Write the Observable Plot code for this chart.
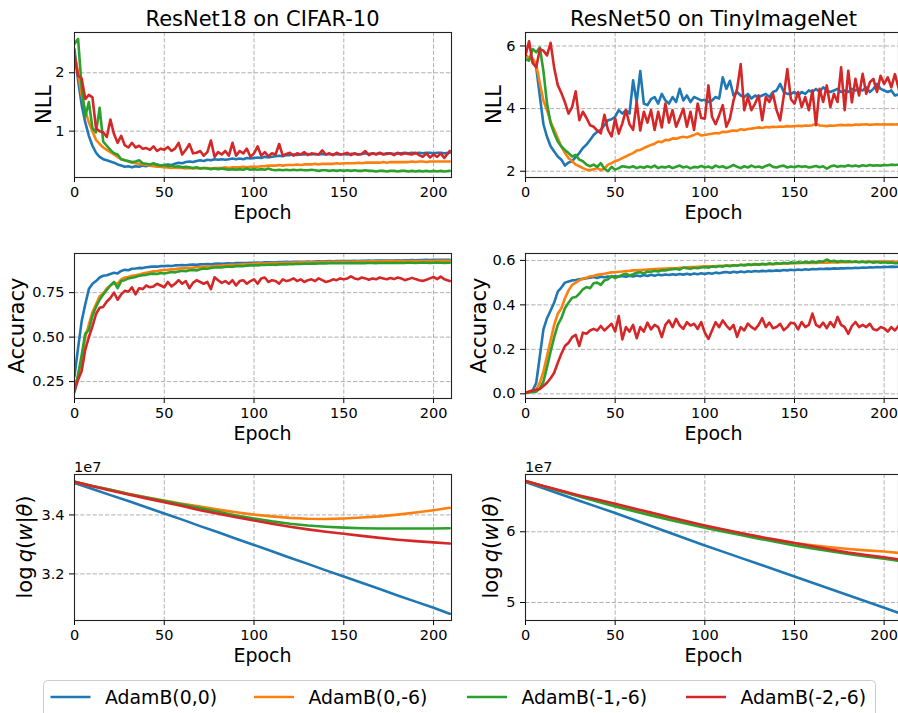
<!DOCTYPE html>
<html>
<head>
<meta charset="utf-8">
<script src="https://cdn.jsdelivr.net/npm/d3@7"></script>
<script src="https://cdn.jsdelivr.net/npm/@observablehq/plot@0.6"></script>
<style>
  html, body { margin: 0; padding: 0; background: #fff; }
  #fig { position: relative; width: 898px; height: 713px; overflow: hidden; background: #fff; }
</style>
</head>
<body>
<div id="fig"></div>
<script>
// ---- optimiser settings and colours ----
const SERIES = ["AdamB(0,0)", "AdamB(0,-6)", "AdamB(-1,-6)", "AdamB(-2,-6)"];
const COLORS = ["#1f77b4", "#ff7f0e", "#2ca02c", "#d62728"];

// metrics logged every second epoch, last one at epoch 209
const EPOCHS = [...d3.range(0, 208, 2), 209];
// log q(w|θ) sampled every ten epochs
const Q_EPOCHS = [0, 10, 20, 30, 40, 50, 60, 70, 80, 90, 100, 110, 120, 130, 140, 150, 160, 170, 180, 190, 200, 209];

const X_TICKS = [0, 50, 100, 150, 200];

// ---- ResNet18 on CIFAR-10: test NLL ----
const nllCifar00 = [
  2.40, 1.87, 1.45, 1.15, 0.92, 0.75, 0.63, 0.56, 0.52, 0.50,
  0.48, 0.46, 0.43, 0.41, 0.39, 0.40, 0.38, 0.40, 0.39, 0.41,
  0.40, 0.42, 0.41, 0.43, 0.41, 0.42, 0.43, 0.42, 0.44, 0.46,
  0.45, 0.47, 0.48, 0.47, 0.49, 0.50, 0.49, 0.51, 0.50, 0.52,
  0.51, 0.52, 0.51, 0.52, 0.53, 0.52, 0.53, 0.52, 0.54, 0.53,
  0.54, 0.55, 0.54, 0.56, 0.55, 0.56, 0.57, 0.58, 0.57, 0.59,
  0.59, 0.60, 0.59, 0.60, 0.60, 0.61, 0.60, 0.61, 0.60, 0.61,
  0.60, 0.61, 0.60, 0.61, 0.60, 0.61, 0.60, 0.61, 0.61, 0.60,
  0.61, 0.62, 0.61, 0.62, 0.61, 0.62, 0.61, 0.62, 0.62, 0.61,
  0.62, 0.62, 0.63, 0.62, 0.63, 0.62, 0.63, 0.62, 0.63, 0.63,
  0.62, 0.63, 0.63, 0.62, 0.63
];
const nllCifar06 = [
  2.30, 2.00, 1.62, 1.35, 1.15, 1.00, 0.85, 0.78, 0.72, 0.68,
  0.64, 0.60, 0.56, 0.52, 0.50, 0.48, 0.46, 0.45, 0.44, 0.43,
  0.42, 0.41, 0.40, 0.39, 0.39, 0.38, 0.38, 0.37, 0.38, 0.37,
  0.37, 0.36, 0.37, 0.36, 0.37, 0.36, 0.37, 0.37, 0.36, 0.37,
  0.37, 0.37, 0.38, 0.37, 0.38, 0.38, 0.38, 0.39, 0.38, 0.39,
  0.39, 0.39, 0.40, 0.40, 0.41, 0.41, 0.41, 0.42, 0.41, 0.42,
  0.42, 0.42, 0.43, 0.42, 0.43, 0.43, 0.43, 0.44, 0.43, 0.44,
  0.44, 0.44, 0.44, 0.45, 0.44, 0.45, 0.45, 0.45, 0.45, 0.46,
  0.45, 0.46, 0.46, 0.46, 0.46, 0.46, 0.47, 0.46, 0.47, 0.47,
  0.47, 0.47, 0.47, 0.47, 0.48, 0.47, 0.48, 0.48, 0.47, 0.48,
  0.48, 0.48, 0.48, 0.48, 0.48
];
const nllCifar16 = [
  2.50, 2.58, 1.75, 1.25, 1.50, 1.05, 0.98, 1.40, 0.82, 0.75,
  0.68, 0.62, 0.60, 0.52, 0.50, 0.49, 0.47, 0.48, 0.50, 0.45,
  0.44, 0.43, 0.45, 0.42, 0.41, 0.42, 0.40, 0.41, 0.39, 0.40,
  0.38, 0.39, 0.38, 0.37, 0.38, 0.36, 0.37, 0.36, 0.35, 0.36,
  0.35, 0.36, 0.35, 0.34, 0.35, 0.34, 0.35, 0.34, 0.36, 0.34,
  0.35, 0.34, 0.35, 0.34, 0.36, 0.34, 0.33, 0.34, 0.33, 0.34,
  0.33, 0.34, 0.33, 0.34, 0.33, 0.33, 0.34, 0.33, 0.32, 0.33,
  0.33, 0.32, 0.33, 0.32, 0.33, 0.32, 0.33, 0.32, 0.33, 0.32,
  0.32, 0.33, 0.32, 0.32, 0.31, 0.32, 0.32, 0.31, 0.32, 0.32,
  0.31, 0.32, 0.32, 0.31, 0.32, 0.31, 0.32, 0.31, 0.32, 0.31,
  0.32, 0.31, 0.32, 0.31, 0.32
];
const nllCifar26 = [
  2.30, 1.95, 1.90, 1.55, 1.62, 1.58, 1.05, 1.00, 0.98, 0.90,
  1.20, 0.95, 0.80, 0.92, 0.76, 0.72, 0.80, 0.72, 0.75, 0.70,
  0.71, 0.68, 0.74, 0.66, 0.70, 0.68, 0.73, 0.66, 0.70, 0.80,
  0.60, 0.68, 0.78, 0.62, 0.63, 0.66, 0.58, 0.64, 0.84, 0.56,
  0.64, 0.60, 0.66, 0.58, 0.80, 0.58, 0.66, 0.62, 0.70, 0.56,
  0.62, 0.74, 0.58, 0.64, 0.57, 0.62, 0.60, 0.78, 0.58, 0.61,
  0.63, 0.58, 0.62, 0.60, 0.64, 0.59, 0.62, 0.61, 0.60, 0.67,
  0.60, 0.62, 0.59, 0.63, 0.60, 0.61, 0.63, 0.59, 0.62, 0.60,
  0.61, 0.66, 0.59, 0.62, 0.60, 0.63, 0.60, 0.61, 0.62, 0.59,
  0.63, 0.60, 0.62, 0.61, 0.60, 0.63, 0.59, 0.56, 0.62, 0.55,
  0.60, 0.56, 0.62, 0.54, 0.66
];

// ---- ResNet50 on TinyImageNet: test NLL ----
const nllTiny00 = [
  5.70, 5.62, 5.58, 5.30, 4.40, 3.50, 3.10, 2.80, 2.63, 2.47,
  2.37, 2.18, 2.28, 2.32, 2.45, 2.58, 2.74, 2.85, 3.00, 3.16,
  3.26, 3.32, 3.47, 3.63, 3.66, 3.74, 3.95, 3.84, 3.95, 3.84,
  4.90, 4.20, 5.20, 4.16, 4.11, 4.30, 4.37, 4.16, 4.47, 4.26,
  4.16, 4.37, 4.21, 4.63, 4.26, 4.42, 4.21, 4.37, 4.32, 4.26,
  4.28, 4.21, 4.26, 4.37, 4.32, 5.00, 4.63, 4.89, 4.42, 4.53,
  4.42, 4.37, 4.47, 4.32, 4.42, 4.37, 4.42, 4.47, 4.37, 4.53,
  4.58, 4.79, 4.53, 4.47, 4.47, 4.53, 4.42, 4.53, 4.47, 4.58,
  4.53, 4.63, 4.53, 4.68, 4.58, 4.53, 4.58, 4.63, 4.53, 4.58,
  4.53, 4.63, 4.58, 4.63, 4.58, 4.68, 4.53, 4.63, 4.79, 4.63,
  4.58, 4.53, 4.58, 4.42, 4.47
];
const nllTiny06 = [
  5.70, 5.62, 5.60, 5.40, 4.80, 4.25, 3.95, 3.58, 3.32, 3.05,
  2.79, 2.58, 2.42, 2.32, 2.21, 2.16, 2.10, 2.05, 2.04, 2.06,
  2.10, 2.04, 2.08, 2.21, 2.26, 2.32, 2.36, 2.42, 2.47, 2.53,
  2.58, 2.66, 2.68, 2.74, 2.79, 2.84, 2.88, 2.95, 2.93, 3.00,
  2.99, 3.05, 3.04, 3.08, 3.10, 3.08, 3.12, 3.16, 3.21, 3.14,
  3.16, 3.18, 3.20, 3.22, 3.21, 3.26, 3.25, 3.28, 3.30, 3.29,
  3.34, 3.32, 3.35, 3.36, 3.38, 3.40, 3.38, 3.41, 3.40, 3.42,
  3.41, 3.43, 3.42, 3.44, 3.43, 3.44, 3.45, 3.44, 3.46, 3.45,
  3.47, 3.52, 3.46, 3.45, 3.44, 3.46, 3.45, 3.47, 3.48, 3.47,
  3.48, 3.47, 3.49, 3.48, 3.49, 3.50, 3.48, 3.49, 3.50, 3.49,
  3.50, 3.49, 3.50, 3.49, 3.50
];
const nllTiny16 = [
  5.58, 5.53, 5.90, 5.80, 5.95, 5.20, 4.16, 3.53, 3.21, 2.95,
  2.79, 2.68, 2.58, 2.47, 2.52, 2.37, 2.32, 2.21, 2.16, 2.21,
  2.14, 2.26, 2.08, 2.00, 2.14, 2.05, 2.10, 2.16, 2.14, 2.12,
  2.16, 2.10, 2.14, 2.11, 2.16, 2.12, 2.18, 2.10, 2.14, 2.12,
  2.16, 2.10, 2.14, 2.18, 2.12, 2.15, 2.09, 2.14, 2.12, 2.17,
  2.12, 2.15, 2.10, 2.18, 2.13, 2.16, 2.10, 2.14, 2.20, 2.14,
  2.10, 2.16, 2.12, 2.18, 2.13, 2.15, 2.11, 2.17, 2.21, 2.14,
  2.12, 2.16, 2.18, 2.12, 2.15, 2.13, 2.17, 2.14, 2.16, 2.12,
  2.14, 2.17, 2.13, 2.16, 2.08, 2.15, 2.18, 2.14, 2.17, 2.15,
  2.19, 2.16, 2.18, 2.15, 2.19, 2.17, 2.20, 2.18, 2.19, 2.18,
  2.20, 2.19, 2.21, 2.20, 2.21
];
const nllTiny26 = [
  5.70, 6.15, 5.45, 5.32, 5.90, 5.85, 5.70, 6.10, 5.30, 4.75,
  4.50, 4.20, 3.84, 4.05, 4.55, 3.63, 3.90, 3.70, 3.47, 3.42,
  3.30, 3.21, 3.80, 3.32, 3.11, 3.68, 3.20, 3.53, 3.95, 3.50,
  3.32, 4.21, 3.30, 3.90, 3.55, 3.95, 3.32, 3.90, 3.40, 4.16,
  3.55, 3.95, 3.42, 3.70, 4.00, 3.42, 3.90, 3.32, 4.16, 3.70,
  3.68, 4.74, 3.74, 3.50, 3.79, 4.11, 3.42, 3.68, 4.26, 4.63,
  5.42, 3.95, 4.37, 3.95, 4.16, 4.42, 3.63, 4.37, 4.21, 4.47,
  3.95, 3.63, 4.40, 5.26, 4.30, 4.16, 4.53, 4.05, 4.37, 3.95,
  4.58, 3.47, 4.63, 4.21, 4.74, 4.05, 4.47, 4.21, 5.32, 3.95,
  5.21, 4.20, 4.95, 4.42, 5.11, 4.47, 4.84, 4.95, 4.53, 5.05,
  4.79, 5.00, 4.68, 5.10, 4.45
];

// ---- ResNet18 on CIFAR-10: test accuracy ----
const accCifar00 = [
  0.28, 0.44, 0.59, 0.685, 0.77, 0.80, 0.815, 0.835, 0.845, 0.848,
  0.855, 0.862, 0.858, 0.872, 0.878, 0.876, 0.884, 0.886, 0.889, 0.888,
  0.893, 0.895, 0.897, 0.896, 0.899, 0.900, 0.901, 0.900, 0.903, 0.904,
  0.905, 0.904, 0.907, 0.908, 0.907, 0.909, 0.910, 0.911, 0.910, 0.912,
  0.913, 0.912, 0.914, 0.915, 0.914, 0.916, 0.916, 0.917, 0.916, 0.918,
  0.918, 0.919, 0.918, 0.920, 0.920, 0.921, 0.920, 0.922, 0.922, 0.923,
  0.922, 0.923, 0.924, 0.923, 0.924, 0.925, 0.924, 0.925, 0.926, 0.925,
  0.926, 0.927, 0.926, 0.927, 0.928, 0.927, 0.928, 0.928, 0.929, 0.928,
  0.929, 0.929, 0.930, 0.929, 0.930, 0.930, 0.931, 0.930, 0.931, 0.931,
  0.932, 0.931, 0.932, 0.932, 0.933, 0.932, 0.933, 0.933, 0.934, 0.933,
  0.934, 0.934, 0.934, 0.935, 0.934
];
const accCifar06 = [
  0.22, 0.28, 0.37, 0.50, 0.57, 0.64, 0.685, 0.73, 0.745, 0.775,
  0.79, 0.805, 0.80, 0.825, 0.835, 0.838, 0.845, 0.848, 0.852, 0.857,
  0.862, 0.866, 0.870, 0.872, 0.875, 0.877, 0.879, 0.881, 0.882, 0.885,
  0.887, 0.888, 0.890, 0.891, 0.893, 0.894, 0.896, 0.897, 0.898, 0.900,
  0.901, 0.902, 0.904, 0.905, 0.906, 0.907, 0.908, 0.909, 0.910, 0.911,
  0.912, 0.913, 0.914, 0.914, 0.915, 0.916, 0.916, 0.917, 0.917, 0.918,
  0.918, 0.919, 0.919, 0.920, 0.920, 0.921, 0.921, 0.921, 0.922, 0.922,
  0.922, 0.923, 0.923, 0.923, 0.924, 0.924, 0.924, 0.924, 0.925, 0.925,
  0.925, 0.925, 0.926, 0.926, 0.926, 0.926, 0.926, 0.927, 0.927, 0.927,
  0.927, 0.927, 0.927, 0.928, 0.928, 0.928, 0.928, 0.928, 0.928, 0.928,
  0.928, 0.929, 0.929, 0.929, 0.929
];
const accCifar16 = [
  0.19, 0.29, 0.40, 0.52, 0.54, 0.62, 0.67, 0.71, 0.74, 0.765,
  0.79, 0.81, 0.775, 0.815, 0.82, 0.83, 0.834, 0.838, 0.845, 0.848,
  0.85, 0.855, 0.857, 0.855, 0.86, 0.858, 0.862, 0.866, 0.864, 0.869,
  0.873, 0.870, 0.876, 0.878, 0.875, 0.882, 0.886, 0.884, 0.889, 0.891,
  0.893, 0.891, 0.895, 0.897, 0.895, 0.899, 0.900, 0.898, 0.902, 0.903,
  0.904, 0.903, 0.906, 0.905, 0.907, 0.908, 0.906, 0.909, 0.910, 0.909,
  0.911, 0.910, 0.912, 0.911, 0.913, 0.912, 0.914, 0.913, 0.914, 0.915,
  0.914, 0.915, 0.916, 0.915, 0.916, 0.915, 0.917, 0.916, 0.917, 0.916,
  0.917, 0.916, 0.918, 0.917, 0.916, 0.918, 0.917, 0.918, 0.917, 0.918,
  0.917, 0.918, 0.917, 0.919, 0.918, 0.917, 0.918, 0.919, 0.918, 0.917,
  0.918, 0.919, 0.918, 0.917, 0.918
];
const accCifar26 = [
  0.20, 0.26, 0.31, 0.43, 0.50, 0.56, 0.63, 0.665, 0.67, 0.70,
  0.72, 0.75, 0.71, 0.74, 0.76, 0.755, 0.78, 0.74, 0.775, 0.77,
  0.79, 0.78, 0.785, 0.80, 0.79, 0.78, 0.81, 0.785, 0.80, 0.82,
  0.80, 0.815, 0.775, 0.805, 0.82, 0.81, 0.80, 0.81, 0.77, 0.836,
  0.82, 0.805, 0.815, 0.80, 0.82, 0.79, 0.815, 0.82, 0.80, 0.815,
  0.825, 0.80, 0.83, 0.835, 0.81, 0.82, 0.815, 0.80, 0.825, 0.815,
  0.82, 0.83, 0.815, 0.825, 0.81, 0.82, 0.825, 0.815, 0.83, 0.82,
  0.81, 0.815, 0.825, 0.82, 0.83, 0.825, 0.83, 0.842, 0.83, 0.825,
  0.835, 0.83, 0.822, 0.83, 0.825, 0.835, 0.83, 0.825, 0.832, 0.826,
  0.835, 0.83, 0.82, 0.826, 0.833, 0.826, 0.82, 0.816, 0.822, 0.83,
  0.838, 0.826, 0.84, 0.825, 0.815
];

// ---- ResNet50 on TinyImageNet: test accuracy ----
const accTiny00 = [
  0.005, 0.008, 0.015, 0.05, 0.17, 0.29, 0.34, 0.375, 0.41, 0.46,
  0.478, 0.50, 0.505, 0.51, 0.512, 0.515, 0.517, 0.52, 0.522, 0.525,
  0.521, 0.527, 0.524, 0.528, 0.525, 0.529, 0.527, 0.53, 0.526, 0.531,
  0.528, 0.532, 0.529, 0.534, 0.53, 0.535, 0.531, 0.536, 0.533, 0.537,
  0.534, 0.538, 0.535, 0.539, 0.536, 0.54, 0.536, 0.541, 0.538, 0.542,
  0.539, 0.543, 0.54, 0.545, 0.542, 0.546, 0.548, 0.544, 0.549, 0.546,
  0.55, 0.547, 0.551, 0.549, 0.552, 0.55, 0.553, 0.551, 0.554, 0.552,
  0.555, 0.553, 0.557, 0.555, 0.558, 0.556, 0.559, 0.557, 0.56, 0.558,
  0.561, 0.56, 0.562, 0.561, 0.563, 0.562, 0.564, 0.563, 0.565, 0.564,
  0.566, 0.565, 0.567, 0.566, 0.568, 0.567, 0.569, 0.568, 0.57, 0.569,
  0.571, 0.57, 0.572, 0.571, 0.572
];
const accTiny06 = [
  0.005, 0.008, 0.01, 0.02, 0.05, 0.10, 0.17, 0.24, 0.31, 0.36,
  0.385, 0.43, 0.465, 0.49, 0.50, 0.51, 0.518, 0.522, 0.528, 0.53,
  0.535, 0.538, 0.54, 0.543, 0.546, 0.547, 0.549, 0.55, 0.552, 0.553,
  0.555, 0.556, 0.557, 0.558, 0.559, 0.56, 0.561, 0.562, 0.562, 0.563,
  0.564, 0.565, 0.565, 0.567, 0.567, 0.569, 0.57, 0.57, 0.571, 0.572,
  0.573, 0.573, 0.574, 0.575, 0.575, 0.576, 0.577, 0.577, 0.578, 0.578,
  0.579, 0.58, 0.58, 0.581, 0.581, 0.582, 0.582, 0.583, 0.583, 0.584,
  0.584, 0.585, 0.585, 0.586, 0.586, 0.587, 0.587, 0.588, 0.588, 0.588,
  0.589, 0.589, 0.59, 0.59, 0.59, 0.591, 0.591, 0.591, 0.592, 0.592,
  0.592, 0.593, 0.593, 0.593, 0.594, 0.594, 0.594, 0.594, 0.595, 0.595,
  0.595, 0.595, 0.595, 0.594, 0.594
];
const accTiny16 = [
  0.005, 0.006, 0.008, 0.01, 0.025, 0.055, 0.12, 0.19, 0.255, 0.31,
  0.34, 0.385, 0.41, 0.432, 0.435, 0.45, 0.47, 0.48, 0.475, 0.497,
  0.50, 0.49, 0.51, 0.515, 0.53, 0.52, 0.528, 0.535, 0.54, 0.532,
  0.538, 0.545, 0.547, 0.542, 0.55, 0.549, 0.553, 0.55, 0.556, 0.555,
  0.558, 0.56, 0.562, 0.558, 0.568, 0.565, 0.562, 0.567, 0.565, 0.568,
  0.57, 0.567, 0.573, 0.57, 0.575, 0.572, 0.577, 0.574, 0.578, 0.576,
  0.58, 0.577, 0.582, 0.579, 0.584, 0.58, 0.585, 0.582, 0.587, 0.583,
  0.588, 0.585, 0.589, 0.586, 0.591, 0.588, 0.592, 0.589, 0.593, 0.59,
  0.594, 0.591, 0.596, 0.594, 0.604, 0.595, 0.598, 0.593, 0.597, 0.594,
  0.596, 0.593, 0.595, 0.592, 0.594, 0.591, 0.594, 0.59, 0.593, 0.589,
  0.592, 0.589, 0.591, 0.587, 0.588
];
const accTiny26 = [
  0.005, 0.01, 0.015, 0.018, 0.022, 0.035, 0.05, 0.07, 0.095, 0.14,
  0.18, 0.215, 0.23, 0.255, 0.265, 0.215, 0.275, 0.27, 0.285, 0.292,
  0.285, 0.305, 0.285, 0.30, 0.315, 0.28, 0.35, 0.245, 0.30, 0.28,
  0.31, 0.25, 0.30, 0.28, 0.32, 0.29, 0.31, 0.30, 0.255, 0.31,
  0.33, 0.30, 0.337, 0.307, 0.292, 0.322, 0.307, 0.315, 0.292, 0.322,
  0.275, 0.247, 0.285, 0.322, 0.30, 0.33, 0.307, 0.29, 0.31, 0.256,
  0.30, 0.285, 0.316, 0.30, 0.29, 0.31, 0.34, 0.30, 0.32, 0.295,
  0.30, 0.315, 0.286, 0.30, 0.32, 0.316, 0.29, 0.323, 0.30, 0.31,
  0.361, 0.31, 0.30, 0.32, 0.295, 0.323, 0.30, 0.346, 0.31, 0.30,
  0.27, 0.305, 0.323, 0.30, 0.31, 0.30, 0.315, 0.29, 0.286, 0.30,
  0.295, 0.28, 0.30, 0.285, 0.316
];

// ---- log q(w|θ), in units of 1e7 ----
const logqCifar00 = [3.508, 3.488, 3.467, 3.447, 3.426, 3.405, 3.384, 3.362, 3.341, 3.319, 3.298, 3.277, 3.255, 3.234, 3.212, 3.191, 3.170, 3.149, 3.127, 3.106, 3.085, 3.065];
const logqCifar06 = [3.512, 3.498, 3.485, 3.472, 3.460, 3.449, 3.438, 3.428, 3.418, 3.409, 3.401, 3.395, 3.390, 3.387, 3.386, 3.388, 3.391, 3.395, 3.401, 3.408, 3.416, 3.424];
const logqCifar16 = [3.512, 3.498, 3.485, 3.471, 3.459, 3.447, 3.435, 3.423, 3.411, 3.398, 3.388, 3.378, 3.370, 3.364, 3.360, 3.357, 3.355, 3.354, 3.354, 3.354, 3.354, 3.355];
const logqCifar26 = [3.512, 3.497, 3.483, 3.469, 3.456, 3.443, 3.430, 3.416, 3.404, 3.392, 3.381, 3.370, 3.360, 3.351, 3.343, 3.336, 3.329, 3.322, 3.316, 3.311, 3.307, 3.303];

const logqTiny00 = [6.703, 6.615, 6.527, 6.440, 6.352, 6.264, 6.173, 6.081, 5.990, 5.898, 5.807, 5.719, 5.631, 5.543, 5.456, 5.368, 5.279, 5.191, 5.102, 5.014, 4.925, 4.846];
const logqTiny06 = [6.717, 6.645, 6.576, 6.507, 6.440, 6.373, 6.310, 6.247, 6.186, 6.129, 6.075, 6.024, 5.975, 5.928, 5.882, 5.840, 5.808, 5.780, 5.757, 5.737, 5.720, 5.698];
const logqTiny16 = [6.717, 6.643, 6.570, 6.498, 6.427, 6.358, 6.295, 6.232, 6.170, 6.112, 6.057, 6.005, 5.953, 5.903, 5.854, 5.807, 5.765, 5.725, 5.687, 5.652, 5.618, 5.588];
const logqTiny26 = [6.717, 6.648, 6.580, 6.514, 6.455, 6.396, 6.333, 6.271, 6.210, 6.150, 6.090, 6.035, 5.982, 5.932, 5.885, 5.840, 5.795, 5.750, 5.708, 5.672, 5.640, 5.607];

// ---- layout ----
const FONT = "DejaVu Sans, Liberation Sans, sans-serif";
const GRID = "#b0b0b0";
const LINE_WIDTH = 2.6;
const fig = document.getElementById("fig");

const rowsOf = (epochs, values) => values.map((v, i) => ({epoch: epochs[i], value: v}));

const LEFT = {x: 74, w: 377, xDomain: [0, 210]};
const RIGHT = {x: 525, w: 373, xDomain: [0, 208]};
const ROWS = [{y: 32, h: 145}, {y: 253, h: 145}, {y: 474, h: 146}];

const panels = [
  {col: LEFT, row: ROWS[0], yDomain: [0.206, 2.69], yTicks: [1, 2], fmt: "d", epochs: EPOCHS,
   lines: [nllCifar00, nllCifar06, nllCifar16, nllCifar26]},
  {col: RIGHT, row: ROWS[0], yDomain: [1.8, 6.43], yTicks: [2, 4, 6], fmt: "d", epochs: EPOCHS,
   lines: [nllTiny00, nllTiny06, nllTiny16, nllTiny26]},
  {col: LEFT, row: ROWS[1], yDomain: [0.155, 0.97], yTicks: [0.25, 0.5, 0.75], fmt: ".2f", epochs: EPOCHS,
   lines: [accCifar00, accCifar06, accCifar16, accCifar26]},
  {col: RIGHT, row: ROWS[1], yDomain: [-0.021, 0.631], yTicks: [0, 0.2, 0.4, 0.6], fmt: ".1f", epochs: EPOCHS,
   lines: [accTiny00, accTiny06, accTiny16, accTiny26]},
  {col: LEFT, row: ROWS[2], yDomain: [3.042, 3.537], yTicks: [3.2, 3.4], fmt: ".1f", epochs: Q_EPOCHS,
   lines: [logqCifar00, logqCifar06, logqCifar16, logqCifar26]},
  {col: RIGHT, row: ROWS[2], yDomain: [4.745, 6.81], yTicks: [5, 6], fmt: "d", epochs: Q_EPOCHS,
   lines: [logqTiny00, logqTiny06, logqTiny16, logqTiny26]}
];

const mL = 70, mR = 10, mT = 10, mB = 36;
for (const p of panels) {
  const chart = Plot.plot({
    width: p.col.w + mL + mR,
    height: p.row.h + mT + mB,
    marginLeft: mL, marginRight: mR, marginTop: mT, marginBottom: mB,
    style: {background: "transparent", fontFamily: FONT, fontSize: "14.5px", color: "#000"},
    x: {domain: p.col.xDomain, ticks: X_TICKS, tickFormat: "d", tickSize: 5, tickPadding: 4.5, label: null},
    y: {domain: p.yDomain, ticks: p.yTicks, tickFormat: p.fmt, tickSize: 5, tickPadding: 5, label: null},
    marks: [
      Plot.ruleX(X_TICKS, {stroke: GRID, strokeWidth: 1, strokeDasharray: "4.3,1.9"}),
      Plot.ruleY(p.yTicks, {stroke: GRID, strokeWidth: 1, strokeDasharray: "4.3,1.9"}),
      ...p.lines.map((vals, i) => Plot.line(rowsOf(p.epochs, vals), {
        x: "epoch", y: "value", stroke: COLORS[i], strokeWidth: LINE_WIDTH, clip: true
      })),
      Plot.frame({stroke: "#222", strokeWidth: 1.1})
    ]
  });
  chart.style.position = "absolute";
  chart.style.left = (p.col.x - mL) + "px";
  chart.style.top = (p.row.y - mT) + "px";
  chart.style.maxWidth = "none";
  fig.appendChild(chart);
}

// ---- titles, axis labels, offset text and legend ----
const overlay = d3.create("svg")
  .attr("width", 898).attr("height", 713)
  .style("position", "absolute").style("left", "0px").style("top", "0px")
  .style("font-family", FONT);

overlay.append("text").attr("x", 262.5).attr("y", 25.5)
  .attr("text-anchor", "middle").attr("font-size", "21px").text("ResNet18 on CIFAR-10");
overlay.append("text").attr("x", 713.5).attr("y", 25.5)
  .attr("text-anchor", "middle").attr("font-size", "21px").text("ResNet50 on TinyImageNet");

// "Epoch" under every panel
for (const p of panels) {
  overlay.append("text")
    .attr("x", p.col === LEFT ? 262.5 : 713.5)
    .attr("y", p.row.y + p.row.h + 41.5)
    .attr("text-anchor", "middle").attr("font-size", "19px").text("Epoch");
}

// rotated y labels
function yLabel(x, cy, build) {
  const t = overlay.append("text")
    .attr("transform", `translate(${x},${cy}) rotate(-90)`)
    .attr("text-anchor", "middle").attr("font-size", "21px");
  build(t);
}
const plain = s => t => t.text(s);
const logq = t => {
  t.append("tspan").text("log\u2009");
  t.append("tspan").attr("font-style", "italic").text("q");
  t.append("tspan").text("(");
  t.append("tspan").attr("font-style", "italic").text("w");
  t.append("tspan").text("|");
  t.append("tspan").attr("font-style", "italic").text("θ");
  t.append("tspan").text(")");
};
const midY = r => r.y + r.h / 2;
yLabel(50.5, midY(ROWS[0]), plain("NLL"));
yLabel(500.5, midY(ROWS[0]), plain("NLL"));
yLabel(24, midY(ROWS[1]), plain("Accuracy"));
yLabel(485.5, midY(ROWS[1]), plain("Accuracy"));
yLabel(31.5, midY(ROWS[2]), logq);
yLabel(497.5, midY(ROWS[2]), logq);

// scale offset of the log q panels
overlay.append("text").attr("x", 74).attr("y", 471.5).attr("font-size", "14.5px").text("1e7");
overlay.append("text").attr("x", 525).attr("y", 471.5).attr("font-size", "14.5px").text("1e7");

// legend
const legend = overlay.append("g");
legend.append("rect")
  .attr("x", 43.5).attr("y", 680.5).attr("width", 832).attr("height", 44).attr("rx", 4)
  .attr("fill", "#fff").attr("fill-opacity", 0.8).attr("stroke", "#cccccc").attr("stroke-width", 1);
const LEGEND_X = [50.5, 254, 467, 686];
SERIES.forEach((name, i) => {
  const x = LEGEND_X[i];
  legend.append("line").attr("x1", x).attr("x2", x + 40).attr("y1", 697).attr("y2", 697)
    .attr("stroke", COLORS[i]).attr("stroke-width", LINE_WIDTH);
  legend.append("text").attr("x", x + 54.5).attr("y", 703.5)
    .attr("font-size", "18.85px").text(name);
});

fig.appendChild(overlay.node());
</script>
</body>
</html>
